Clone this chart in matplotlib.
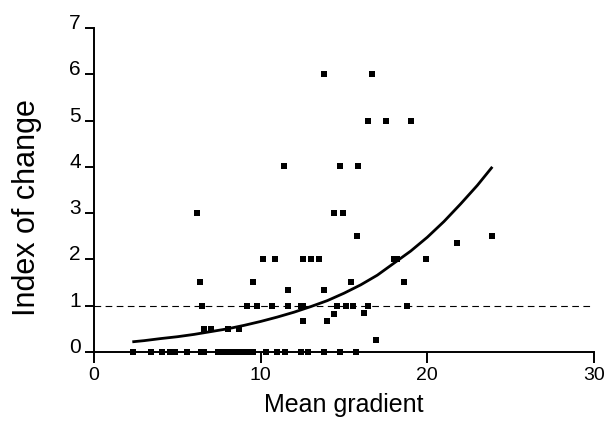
import matplotlib
matplotlib.use("Agg")
import matplotlib.pyplot as plt
from matplotlib.transforms import ScaledTranslation

plt.rcParams['font.family'] = ['Liberation Sans', 'DejaVu Sans']

# Scatter data: mean gradient (x) vs index of change (y)
grad_zero = [2.34, 3.42, 4.08, 4.56, 4.86, 5.58, 6.42, 6.6, 7.44, 7.74, 7.98, 8.22,
             8.52, 8.76, 9.06, 9.3, 9.54, 10.32, 10.98, 11.46, 12.42, 12.84, 13.8,
             14.76, 15.72]
idx_zero = [0.0] * len(grad_zero)

grad_other = [6.16, 6.36, 6.46, 6.6, 7.0, 8.06, 8.7, 9.16, 9.52, 9.8, 10.16, 10.66,
              10.86, 11.4, 11.66, 11.66, 12.4, 12.52, 12.52, 12.52, 13.0, 13.52,
              13.8, 13.8, 13.96, 14.4, 14.4, 14.56, 14.76, 14.92, 15.12, 15.4,
              15.52, 15.76, 15.76, 15.82, 16.2, 16.42, 16.42, 16.66, 16.92, 17.52,
              18.0, 18.2, 18.6, 18.8, 19.0, 19.92, 21.76, 23.86]
idx_other = [3.0, 1.52, 1.0, 0.5, 0.5, 0.5, 0.5, 1.0, 1.52, 1.0, 2.0, 1.0,
             2.0, 4.02, 1.34, 1.0, 1.0, 2.0, 0.67, 1.0, 2.0, 2.0,
             1.34, 6.0, 0.67, 3.0, 0.83, 1.0, 4.02, 3.0, 1.0, 1.52,
             1.0, 2.5, 2.5, 4.02, 0.85, 1.0, 5.0, 6.0, 0.27, 5.0,
             2.0, 2.0, 1.52, 1.0, 5.0, 2.0, 2.36, 2.5]

# Fitted curve
curve_x = [2.3, 3, 4, 5, 6, 7, 8, 9, 10, 11, 12, 13, 14, 15, 16, 17, 18, 19, 20,
           21, 22, 23, 23.9]
curve_y = [0.22, 0.245, 0.29, 0.33, 0.38, 0.44, 0.50, 0.575, 0.66, 0.755, 0.86,
           0.98, 1.11, 1.27, 1.45, 1.66, 1.92, 2.18, 2.48, 2.82, 3.2, 3.6, 4.0]

x_ticks = [0, 10, 20, 30]
y_ticks = [0, 1, 2, 3, 4, 5, 6, 7]
reference_level = 1

fig = plt.figure(figsize=(6.10, 4.21), dpi=100)
ax = fig.add_axes([94/610, 69/421, 500/610, 324/421])

ax.axhline(reference_level, color='black', lw=0.8, ls=(0, (6, 4)), zorder=1)
ax.plot(curve_x, curve_y, color='black', lw=2, zorder=2,
        solid_capstyle='butt', solid_joinstyle='round')
ax.scatter(grad_zero, idx_zero, marker='s', s=25, color='black', clip_on=False, zorder=3, linewidths=0)
ax.scatter(grad_other, idx_other, marker='s', s=25, color='black', clip_on=False, zorder=3, linewidths=0)

ax.set_xlim(0, 30)
ax.set_ylim(0, 7)
ax.set_xticks(x_ticks)
ax.set_yticks(y_ticks)
for s in ['top', 'right']:
    ax.spines[s].set_visible(False)
for s in ['left', 'bottom']:
    ax.spines[s].set_linewidth(1.4)
ax.tick_params(axis='x', direction='out', length=8, width=1.4, labelsize=14, pad=3)
ax.tick_params(axis='y', direction='out', length=6.5, width=1.4, labelsize=15, pad=3)

offset = ScaledTranslation(0, 4.5 / 100, fig.dpi_scale_trans)
for tick in ax.yaxis.get_major_ticks():
    tick.label1.set_verticalalignment('center')
    tick.label1.set_transform(tick.label1.get_transform() + offset)

ax.set_xlabel('Mean gradient', fontsize=18, labelpad=6)
ax.set_ylabel('Index of change', fontsize=22)
ax.yaxis.set_label_coords(-0.104, 0.447)

fig.savefig('out.png', dpi=100)
